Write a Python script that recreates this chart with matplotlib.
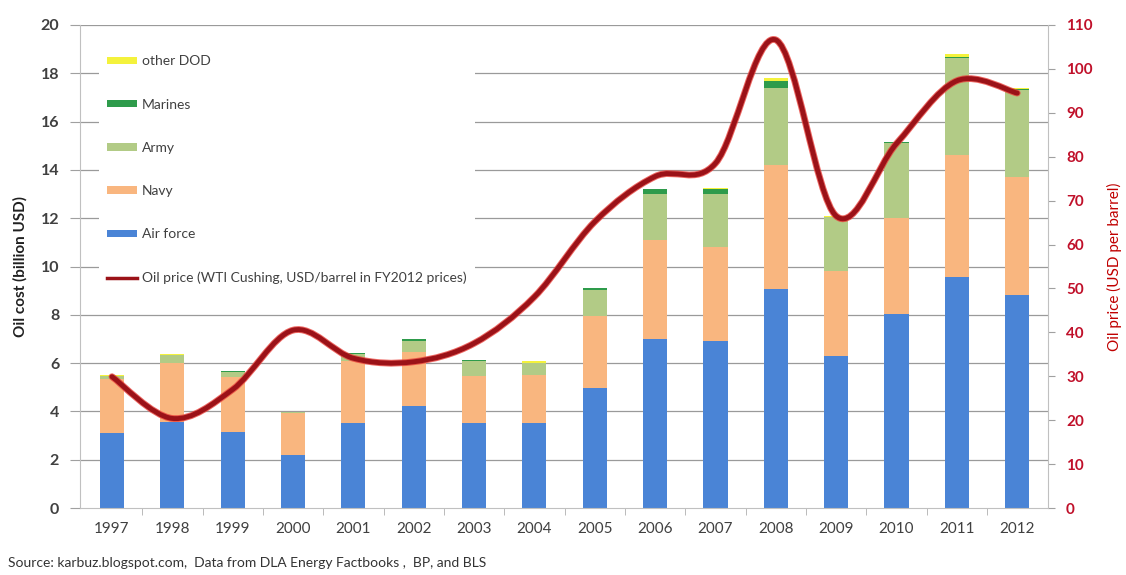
import numpy as np
import matplotlib
matplotlib.use("Agg")
import matplotlib.pyplot as plt
import matplotlib.patheffects as pe
from matplotlib.path import Path
from matplotlib.patches import PathPatch
from matplotlib.lines import Line2D

plt.rcParams['font.family'] = ['Lato', 'DejaVu Sans']

years = ['1997', '1998', '1999', '2000', '2001', '2002', '2003', '2004',
         '2005', '2006', '2007', '2008', '2009', '2010', '2011', '2012']

# oil cost by service, billion USD
air_force = [3.10, 3.57, 3.16, 2.20, 3.53, 4.22, 3.50, 3.50, 4.97, 7.00, 6.90, 9.05, 6.30, 8.05, 9.55, 8.80]
navy      = [2.25, 2.45, 2.28, 1.75, 2.55, 2.25, 1.95, 2.00, 3.00, 4.10, 3.92, 5.15, 3.50, 3.95, 5.07, 4.92]
army      = [0.10, 0.30, 0.20, 0.02, 0.30, 0.45, 0.65, 0.50, 1.05, 1.90, 2.20, 3.20, 2.25, 3.10, 4.00, 3.60]
marines   = [0.02, 0.02, 0.02, 0.01, 0.02, 0.06, 0.02, 0.02, 0.08, 0.20, 0.20, 0.30, 0.02, 0.05, 0.06, 0.04]
other_dod = [0.02, 0.03, 0.02, 0.01, 0.03, 0.03, 0.02, 0.05, 0.02, 0.02, 0.02, 0.10, 0.02, 0.02, 0.10, 0.04]

# WTI Cushing, USD/barrel in FY2012 prices
oil_price = [29.9, 20.4, 27.0, 40.5, 34.1, 33.3, 37.5, 48.1, 65.2, 75.5, 78.5, 106.6, 66.5, 83.0, 97.3, 94.5]

series = [
    ('Air force', air_force, '#4a84d6'),
    ('Navy', navy, '#f9b67f'),
    ('Army', army, '#b2cb86'),
    ('Marines', marines, '#2e9b4b'),
    ('other DOD', other_dod, '#f4f23c'),
]

fig = plt.figure(figsize=(11.26, 5.75), dpi=100)
ax = fig.add_axes([80 / 1126, 1 - 508 / 575, 968 / 1126, 483 / 575])
x = np.arange(len(years))

bottom = np.zeros(len(years))
bars = {}
for name, vals, col in series:
    bars[name] = ax.bar(x, vals, 0.4, bottom=bottom, color=col, zorder=2)
    bottom += np.array(vals)

ax.set_xlim(-0.53, 15.51)
ax.set_ylim(0, 20)
ax.set_yticks(np.arange(0, 21, 2))
for v in range(2, 21, 2):
    ax.axhline(v, color='#9a9a9a', lw=0.9, zorder=1)

ax.set_xticks(x)
ax.set_xticklabels(years, fontsize=11, color='#404040')
ax.set_xticks(np.arange(0.5, 15, 1), minor=True)
ax.tick_params(axis='x', which='major', length=0, pad=10)
ax.tick_params(axis='x', which='minor', length=5, color='#b0b0b0', direction='out')
ax.tick_params(axis='y', length=7, color='#a0a0a0', labelsize=11.5, labelcolor='#404040', pad=8)
for t in ax.get_yticklabels():
    t.set_fontweight('bold')
ax.set_ylabel('Oil cost (billion USD)', fontsize=11, fontweight='bold', color='#202020', labelpad=9)

for s in ['top', 'right']:
    ax.spines[s].set_visible(False)
ax.spines['left'].set_color('#c0c0c0')
ax.spines['bottom'].set_color('#c0c0c0')

# oil price on the right axis, drawn as a smoothed curve through the yearly points
ax2 = ax.twinx()
ax2.set_ylim(0, 110)
ax2.set_yticks(np.arange(0, 111, 10))
ax2.tick_params(axis='y', length=5, color='#a0a0a0', labelsize=11, labelcolor='#c0102a', pad=8)
for t in ax2.get_yticklabels():
    t.set_fontweight('bold')
ax2.set_ylabel('Oil price (USD per barrel)', fontsize=11, color='#c00000', labelpad=10)
for s in ['top', 'left', 'bottom']:
    ax2.spines[s].set_visible(False)
ax2.spines['right'].set_color('#c0c0c0')

px = np.array(x, dtype=float)
py = np.array(oil_price, dtype=float)
verts = [(px[0], py[0])]
codes = [Path.MOVETO]
n = len(px)
for i in range(n - 1):
    p0 = np.array([px[max(i - 1, 0)], py[max(i - 1, 0)]])
    p1 = np.array([px[i], py[i]])
    p2 = np.array([px[i + 1], py[i + 1]])
    p3 = np.array([px[min(i + 2, n - 1)], py[min(i + 2, n - 1)]])
    c1 = p1 + (p2 - p0) / 6
    c2 = p2 - (p3 - p1) / 6
    verts += [tuple(c1), tuple(c2), tuple(p2)]
    codes += [Path.CURVE4] * 3
curve = PathPatch(Path(verts, codes), facecolor='none', edgecolor='#9b1218', lw=3.5,
                  zorder=5, capstyle='round', joinstyle='round')
curve.set_path_effects([pe.Stroke(linewidth=4.9, foreground='#e8403a', alpha=0.8), pe.Normal()])
ax2.add_patch(curve)

handles = [bars['other DOD'], bars['Marines'], bars['Army'], bars['Navy'], bars['Air force'],
           Line2D([], [], color='#9b1218', lw=2.5)]
labels = ['other DOD', 'Marines', 'Army', 'Navy', 'Air force',
          'Oil price (WTI Cushing, USD/barrel in FY2012 prices)']
leg = ax2.legend(handles, labels, loc='upper left', bbox_to_anchor=(99 / 1126, 1 - 47 / 575),
                 bbox_transform=fig.transFigure, fontsize=10, labelcolor='#404040',
                 frameon=True, facecolor='white', edgecolor='none', framealpha=1, fancybox=False,
                 borderaxespad=0, borderpad=0.6, labelspacing=2.25,
                 handlelength=2.15, handleheight=0.45, handletextpad=0.36)
leg.set_zorder(10)

fig.text(8 / 1126, 1 - 563 / 575, 'Source: karbuz.blogspot.com,  Data from DLA Energy Factbooks ,  BP, and BLS',
         fontsize=10, color='#333333', va='center', ha='left')

fig.savefig('out.png', dpi=100, facecolor='white')
